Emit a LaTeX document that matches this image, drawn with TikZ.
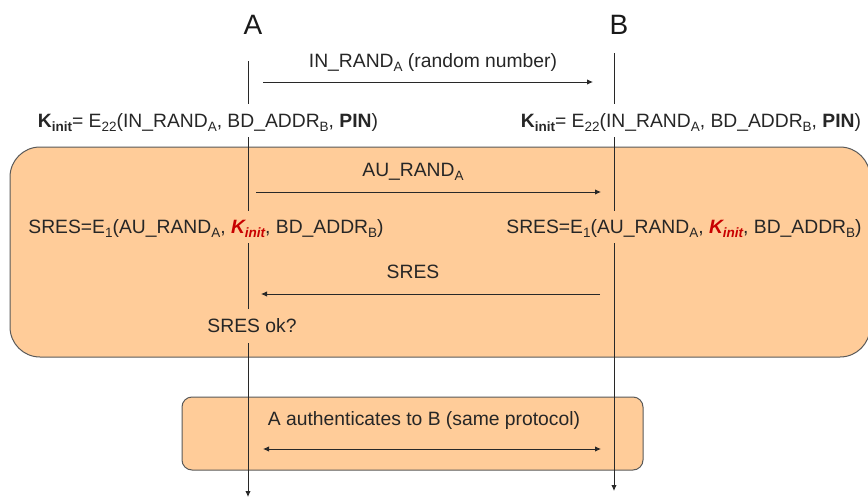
\documentclass[tikz,border=0pt]{standalone}
\usepackage{fontspec}
\setmainfont{Liberation Sans}
\usetikzlibrary{arrows.meta}
\definecolor{boxfill}{RGB}{255,204,153}
\definecolor{kred}{RGB}{200,0,0}
\definecolor{linec}{RGB}{40,40,40}
\newcommand\lowtxt[1]{\raisebox{-0.35ex}{\fontsize{13.5}{13.5}\selectfont #1}}
\newcommand\kinitb{\textbf{K\lowtxt{init}}}
\newcommand\kinitr{\textcolor{kred}{\textbf{\textit{K\lowtxt{init}}}}}
\tikzset{
  lbl/.style={inner sep=0pt, font=\fontsize{19.3}{21}\selectfont, text=black!85},
  actor/.style={inner sep=0pt, font=\fontsize{28}{30}\selectfont, text=black!90},
  tip/.tip={Latex[length=6pt,width=5.5pt]},
  lifeline/.style={draw=linec, line width=0.9pt},
  msg/.style={draw=linec, line width=0.9pt, -tip},
  dmsg/.style={draw=linec, line width=0.9pt, tip-tip},
  phase/.style={draw=black!65, line width=1pt, fill=boxfill}
}
\begin{document}
\begin{tikzpicture}[x=1pt,y=-1pt]
\useasboundingbox (0,0) rectangle (868,498);
% phase boxes
\draw[phase, rounded corners=30pt] (10,147) rectangle (870,357);
\draw[phase, rounded corners=10pt] (182,397) rectangle (643,470);
% actors
\node[actor] (A) at (253,25) {A};
\node[actor] (B) at (619,25) {B};
% lifeline coordinates
\coordinate (a1) at (248,61);  \coordinate (a2) at (248,104);
\coordinate (a3) at (248,137); \coordinate (a4) at (248,211);
\coordinate (a5) at (248,243); \coordinate (a6) at (248,309);
\coordinate (a7) at (248,343); \coordinate (a8) at (248,497);
\coordinate (b1) at (614,53);  \coordinate (b2) at (614,104);
\coordinate (b3) at (614,137); \coordinate (b4) at (614,211);
\coordinate (b5) at (614,243); \coordinate (b6) at (614,491);
\draw[lifeline] (a1) -- (a2);
\draw[lifeline] (a3) -- (a4);
\draw[lifeline] (a5) -- (a6);
\draw[lifeline, -tip] (a7) -- (a8);
\draw[lifeline] (b1) -- (b2);
\draw[lifeline] (b3) -- (b4);
\draw[lifeline, -tip] (b5) -- (b6);
% texts
\node[lbl] (inrand) at (433,63) {IN\_RAND\lowtxt{A} (random number)};
\node[lbl] (kA) at (208,123) {\kinitb= E\lowtxt{22}(IN\_RAND\lowtxt{A}, BD\_ADDR\lowtxt{B}, \textbf{PIN})};
\node[lbl] (kB) at (691,123) {\kinitb= E\lowtxt{22}(IN\_RAND\lowtxt{A}, BD\_ADDR\lowtxt{B}, \textbf{PIN})};
\node[lbl] (au) at (413,172) {AU\_RAND\lowtxt{A}};
\node[lbl] (sA) at (206,229) {SRES=E\lowtxt{1}(AU\_RAND\lowtxt{A}, \kinitr, BD\_ADDR\lowtxt{B})};
\node[lbl] (sB) at (684,229) {SRES=E\lowtxt{1}(AU\_RAND\lowtxt{A}, \kinitr, BD\_ADDR\lowtxt{B})};
\node[lbl] (sres) at (413,272) {SRES};
\node[lbl] (ok) at (252,326) {SRES ok?};
\node[lbl] (auth) at (424,421) {A authenticates to B (same protocol)};
% messages
\coordinate (m1s) at (263,82);  \coordinate (m1e) at (593,82);
\coordinate (m2s) at (256,192); \coordinate (m2e) at (601,192);
\coordinate (m3s) at (600,294); \coordinate (m3e) at (261,294);
\coordinate (m4s) at (263,449); \coordinate (m4e) at (601,449);
\draw[msg] (m1s) -- (m1e);
\draw[msg] (m2s) -- (m2e);
\draw[msg] (m3s) -- (m3e);
\draw[dmsg] (m4s) -- (m4e);
\end{tikzpicture}
\end{document}
